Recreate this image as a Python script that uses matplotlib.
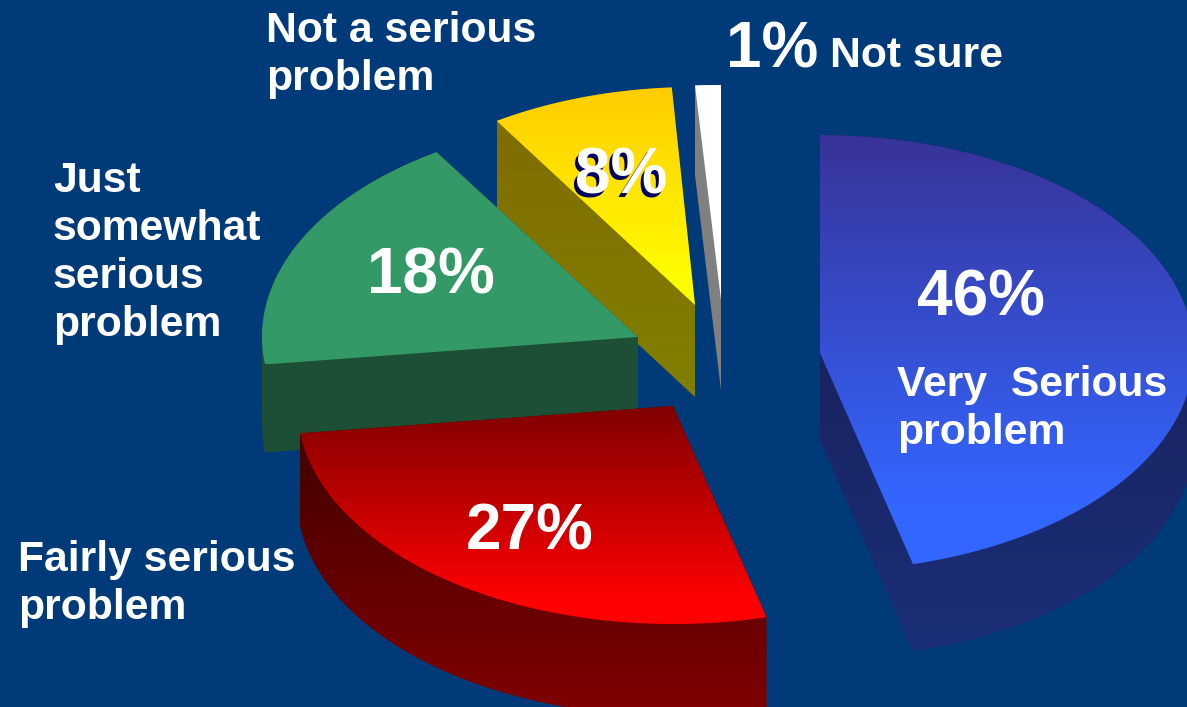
import matplotlib
matplotlib.use("Agg")
import matplotlib.pyplot as plt
import numpy as np
from matplotlib.colors import LinearSegmentedColormap
from matplotlib.patches import Polygon

# survey answers, clockwise from 12 o'clock
categories = ["Very  Serious\nproblem", "Fairly serious\nproblem", "Just\nsomewhat\nserious\nproblem",
              "Not a serious\nproblem", "Not sure"]
shares = [46, 27, 18, 8, 1]

# layout in pixels of the 1187x707 picture
apex_x = [820, 673, 638, 695, 721]
apex_y = [353, 406, 337, 305, 300]
radius_x = [374, 376, 376, 370, 414]
radius_y = [218, 218, 219, 218, 215]
depth = [87, 92, 88, 92, 90]
name_pos = [(897, 396), (18, 571), (53, 192), (266, 42), (830, 67)]
pct_pos = [(917, 315), (466, 549), (367, 294), (575, 193), (726, 67)]

# colours
background = "#003a78"
top_colors = [("#383398", "#3366ff"), ("#800000", "#ff0000"), ("#339966", "#339966"),
              ("#ffcc00", "#ffff00"), ("#ffffff", "#ffffff")]
side_colors = [("#1a1a50", "#1b2f78"), ("#3d0000", "#800000"), ("#1c4f36", "#1c4f36"),
               ("#806a00", "#808000"), ("#808080", "#808080")]
top_fade_end = [505, 600, 500, 290, 300]


def wedge_outline(i, start, sweep):
    # arc on an ellipse, apex first, y pointing down
    theta = np.radians(np.linspace(start, start - sweep, 80))
    xs = apex_x[i] + radius_x[i] * np.cos(theta)
    ys = apex_y[i] - radius_y[i] * np.sin(theta)
    return np.vstack([[apex_x[i], apex_y[i]], np.column_stack([xs, ys])])


def hull(points):
    pts = sorted(set(map(tuple, np.round(points, 3))))

    def half(seq):
        out = []
        for p in seq:
            while len(out) > 1 and ((out[-1][0] - out[-2][0]) * (p[1] - out[-2][1])
                                    - (out[-1][1] - out[-2][1]) * (p[0] - out[-2][0])) <= 0:
                out.pop()
            out.append(p)
        return out[:-1]

    return np.array(half(pts) + half(pts[::-1]))


def fill_gradient(ax, outline, colors, y_end=None):
    y0, y1 = outline[:, 1].min(), outline[:, 1].max()
    y_end = y1 if y_end is None else max(y_end, y0 + 1)
    cmap = LinearSegmentedColormap.from_list("fade", colors)
    rows = np.clip((np.linspace(y0, y1, 256) - y0) / (y_end - y0), 0, 1).reshape(-1, 1)
    patch = Polygon(outline, closed=True, transform=ax.transData, facecolor="none", edgecolor="none")
    ax.add_patch(patch)
    img = ax.imshow(rows, cmap=cmap, vmin=0, vmax=1, aspect="auto", interpolation="bilinear",
                    extent=(outline[:, 0].min(), outline[:, 0].max(), y1, y0), zorder=1)
    img.set_clip_path(patch)
    return img


plt.rcParams["font.family"] = ["Liberation Sans", "DejaVu Sans"]
plt.rcParams["font.weight"] = "bold"

fig = plt.figure(figsize=(11.87, 7.07), dpi=100, facecolor=background)
ax = fig.add_axes([0, 0, 1, 1])
ax.set_facecolor(background)

angles = 90 - 360 * np.cumsum([0] + shares[:-1]) / sum(shares)
for i in reversed(range(len(shares))):
    outline = wedge_outline(i, angles[i], 360 * shares[i] / sum(shares))
    lower = outline + [0, depth[i]]
    fill_gradient(ax, hull(np.vstack([outline, lower])), side_colors[i])
    fill_gradient(ax, outline, top_colors[i], top_fade_end[i])

ax.set_xlim(0, 1187)
ax.set_ylim(707, 0)
ax.axis("off")

for name, (x, y) in zip(categories, name_pos):
    for k, line in enumerate(name.split("\n")):
        ax.text(x, y + 48 * k, line, color="white", fontsize=30.7, fontweight="bold", va="baseline", zorder=5)

for i, (x, y) in enumerate(pct_pos):
    if shares[i] == 8:
        # the 8% carries a navy drop shadow
        ax.text(x - 3, y + 4, f"{shares[i]}%", color="#000060", fontsize=46, fontweight="bold",
                va="baseline", zorder=5)
    ax.text(x, y, f"{shares[i]}%", color="white", fontsize=46, fontweight="bold", va="baseline", zorder=6)

fig.savefig("out.png", dpi=100, facecolor=background)
